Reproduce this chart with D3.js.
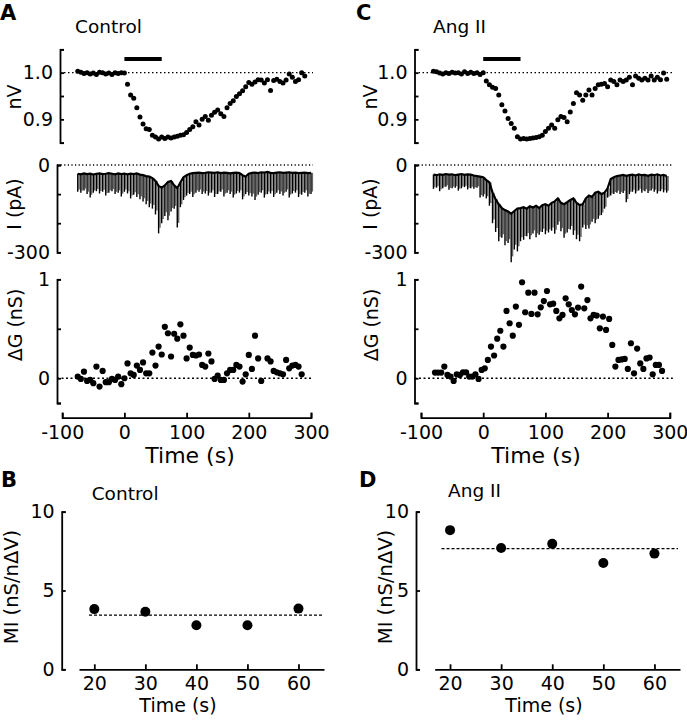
<!DOCTYPE html>
<html>
<head>
<meta charset="utf-8">
<script src="https://cdn.jsdelivr.net/npm/d3@7"></script>
<style>
  body { margin: 0; background: #fff; }
  svg text { font-family: "DejaVu Sans", sans-serif; fill: #000; }
  .axis path, .axis line { stroke: #000; stroke-width: 1.8; }
</style>
</head>
<body>
<script>
// ---- data ----
const stimWindow = [0, 60];

// normalised voltage (nV), sampled every 5 s
const nvTimeCtrl = d3.range(-75, 291, 5);
const nvCtrl = [1.003,1.001,0.998,1.000,0.997,0.999,0.996,1.001,1.000,0.997,0.999,0.996,1.000,0.998,1.000,0.999,
  0.975,0.952,0.945,0.925,0.905,0.890,0.880,0.878,0.866,0.862,
  0.858,0.862,0.859,0.862,0.860,0.862,0.864,0.866,0.867,0.872,
  0.878,0.884,0.895,0.888,0.900,0.906,0.898,0.909,0.915,0.920,
  0.912,0.906,0.925,0.934,0.940,0.949,0.955,0.961,0.970,0.979,
  0.975,0.980,0.985,0.984,0.978,0.985,0.962,0.983,0.986,0.981,
  0.978,0.984,0.997,0.990,0.981,0.985,1.000,0.993];
const nvTimeAng = d3.range(-80, 296, 5);
const nvAng = [1.003,1.002,0.999,0.997,1.000,0.998,1.001,0.999,1.000,0.997,1.002,0.998,1.001,0.998,1.000,0.996,1.000,
  0.982,0.974,0.969,0.966,0.952,0.931,0.918,0.902,0.891,0.881,
  0.863,0.858,0.859,0.858,0.859,0.860,0.861,0.863,0.866,0.874,
  0.881,0.888,0.881,0.899,0.906,0.904,0.895,0.916,0.934,0.957,
  0.952,0.941,0.952,0.963,0.952,0.966,0.974,0.975,0.977,0.970,
  0.984,0.981,0.974,0.984,0.981,0.984,0.990,0.974,0.993,0.988,
  0.984,0.988,0.984,0.993,0.984,0.990,0.985,0.999,0.986];

// holding current (pA): baseline and peak of each test pulse
const iTimeCtrl = d3.range(-75, 301, 5);
const iBaseCtrl = [-30,-32,-29,-31,-30,-33,-30,-29,-31,-30,-28,-30,-32,-29,-31,-30,
  -32,-30,-31,-29,-33,-35,-38,-40,-45,-55,
  -72,-78,-70,-58,-55,-70,-80,-60,-42,-35,
  -30,-28,-27,-26,-28,-27,-25,-26,-27,-25,
  -28,-26,-27,-29,-27,-26,-28,-35,-40,-30,
  -27,-26,-28,-25,-26,-24,-27,-28,-26,-25,
  -27,-26,-25,-27,-26,-28,-27,-26,-28,-27];
const iPeakCtrl = [-92,-95,-88,-100,-112,-95,-90,-98,-92,-105,-95,-90,-100,-95,-108,-92,
  -98,-115,-102,-110,-118,-125,-135,-145,-150,-170,
  -235,-200,-175,-190,-160,-150,-215,-145,-120,-105,
  -100,-110,-95,-92,-100,-98,-105,-95,-110,-100,
  -92,-108,-95,-100,-112,-98,-95,-118,-100,-105,
  -108,-120,-102,-95,-112,-100,-98,-110,-95,-100,
  -105,-92,-112,-98,-95,-110,-102,-95,-108,-100];
const iTimeAng = d3.range(-80, 296, 5);
const iBaseAng = [-33,-35,-32,-34,-31,-33,-32,-35,-33,-31,-34,-32,-33,-36,-38,-40,-42,
  -52,-60,-95,-118,-135,-148,-155,-160,-168,-158,
  -150,-148,-145,-150,-142,-146,-140,-148,-138,-135,
  -140,-130,-125,-115,-130,-135,-128,-120,-115,-130,
  -138,-135,-115,-105,-110,-95,-92,-100,-95,-80,
  -48,-42,-38,-36,-34,-37,-35,-33,-36,-32,
  -35,-34,-37,-33,-35,-32,-36,-34,-38];
const iPeakAng = [-82,-78,-90,-80,-75,-85,-80,-78,-88,-80,-76,-84,-80,-82,-78,-112,-108,
  -115,-140,-200,-230,-262,-250,-276,-268,-334,-290,
  -297,-262,-257,-245,-255,-235,-248,-240,-230,-238,
  -232,-226,-236,-205,-228,-250,-232,-222,-240,-255,
  -262,-215,-220,-218,-195,-200,-185,-172,-150,-112,
  -105,-100,-95,-100,-96,-128,-100,-92,-98,-88,
  -95,-90,-96,-88,-92,-98,-90,-94,-95];

// conductance change (nS)
const gTimeCtrl = d3.range(-75, 286, 5);
const gCtrl = [0.017,-0.007,0.067,-0.027,-0.017,-0.05,0.118,-0.084,0.074,-0.04,-0.04,-0.007,-0.017,0.017,-0.06,0.0,
  0.15,0.05,0.034,0.128,0.084,0.16,0.05,0.05,0.26,0.128,
  0.32,0.24,0.52,0.455,0.22,0.45,0.40,0.545,0.43,0.2,
  0.31,0.236,0.23,0.24,0.135,0.118,0.25,0.17,-0.007,0.027,
  -0.017,-0.017,0.05,0.084,0.084,0.135,0.118,-0.034,0.04,0.236,
  0.094,0.43,0.2,-0.027,null,0.2,0.17,0.074,0.06,0.05,
  0.04,0.185,0.1,0.128,0.135,0.118,0.04];
const gTimeAng = d3.range(-77.5, 290, 5);
const gAng = [0.057,0.057,0.057,0.118,0.034,0.017,-0.027,0.04,0.034,0.06,0.06,0.017,0.017,0.04,-0.007,0.084,
  0.1,0.185,0.32,0.23,0.4,0.48,0.32,0.68,0.556,0.43,
  0.724,0.54,0.97,0.667,0.865,0.65,0.865,0.646,0.717,0.78,
  0.882,0.747,0.754,0.68,0.606,0.64,0.808,0.747,0.69,0.646,
  0.714,0.926,0.707,0.79,0.606,0.64,0.633,0.505,0.623,0.488,
  0.6,0.337,0.118,0.185,0.19,0.195,0.094,0.354,0.05,0.3,
  0.15,0.094,0.2,0.21,0.04,0.135,0.135,0.074];

// membrane index (nS/nΔV) per analysis window
const miTimes = [20, 30, 40, 50, 60];
const miCtrl = [3.82, 3.65, 2.8, 2.8, 3.85];
const miAng = [8.83, 7.7, 7.96, 6.75, 7.34];
const miMeanCtrl = 3.44;
const miMeanAng = 7.66;

// ---- drawing ----
const svg = d3.select('body').append('svg').attr('width', 687).attr('height', 720);
const TICK_FS = 19;
const plain = d => String(d);   // hyphen-minus like the original, not U+2212

function txt(x, y, s, opts = {}) {
  const t = svg.append('text').attr('x', x).attr('y', y).text(s)
    .attr('font-size', (opts.size || 19) + 'px');
  if (opts.bold) t.attr('font-weight', 'bold');
  if (opts.anchor) t.attr('text-anchor', opts.anchor);
  return t;
}
function vLabel(x, cy, s, size) {
  svg.append('text').attr('transform', `translate(${x},${cy}) rotate(-90)`)
    .attr('text-anchor', 'middle').attr('font-size', (size || 19) + 'px').text(s);
}
function styleAxis(g) {
  g.attr('class', 'axis');
  g.selectAll('text').attr('font-size', TICK_FS + 'px').attr('fill', '#000');
}
function leftAxis(x, y, values, labels, fmt) {
  const f = fmt || plain;
  const ax = d3.axisLeft(y).tickValues(values).tickSize(-4).tickSizeOuter(-4).tickPadding(7)
    .tickFormat(d => labels.includes(d) ? f(d) : '');
  svg.append('g').attr('transform', `translate(${x},0)`).call(ax).call(styleAxis);
}
function hRef(x1, x2, y, dash) {
  svg.append('line').attr('x1', x1).attr('x2', x2).attr('y1', y).attr('y2', y)
    .attr('stroke', '#000').attr('stroke-width', 1.3).attr('stroke-dasharray', dash);
}

const columns = [
  { letter: 'A', letterX: 0, title: 'Control', titleX: 75, x0: 62.2, nvAx: 60, yAx: 57, labX: 21, timeCx: 190, refEnd: 2,
    nvT: nvTimeCtrl, nv: nvCtrl, iT: iTimeCtrl, iBase: iBaseCtrl, iPeak: iPeakCtrl, gT: gTimeCtrl, g: gCtrl },
  { letter: 'C', letterX: 356, title: 'Ang II', titleX: 433, x0: 421, nvAx: 414.5, yAx: 414.5, labX: 377, timeCx: 536, refEnd: 3,
    nvT: nvTimeAng, nv: nvAng, iT: iTimeAng, iBase: iBaseAng, iPeak: iPeakAng, gT: gTimeAng, g: gAng }
];

columns.forEach(c => {
  const x = d3.scaleLinear().domain([-100, 300]).range([c.x0, c.x0 + 248.8]);
  const yNv = d3.scaleLinear().domain([0.85, 1.05]).range([142.7, 49.3]);
  const yI = d3.scaleLinear().domain([-300, 0]).range([252.3, 165]);
  const yG = d3.scaleLinear().domain([-0.25, 1]).range([403, 279.3]);
  const xEnd = x(300) + c.refEnd;

  txt(c.letterX, 20, c.letter, { size: 21, bold: true });
  txt(c.titleX, 32.5, c.title, { size: 18.5 });

  // nV panel
  hRef(c.nvAx, xEnd, yNv(1), '1.5,2.5');
  leftAxis(c.nvAx, yNv, [0.85, 0.9, 0.95, 1.0, 1.05], [0.9, 1.0], d3.format('.1f'));
  svg.append('line').attr('x1', x(stimWindow[0])).attr('x2', x(stimWindow[1]))
    .attr('y1', 59).attr('y2', 59).attr('stroke', '#000').attr('stroke-width', 4);
  svg.append('g').selectAll('circle').data(c.nvT.map((t, i) => [t, c.nv[i]])).join('circle')
    .attr('cx', d => x(d[0])).attr('cy', d => yNv(d[1])).attr('r', 2.5).attr('fill', '#000');
  vLabel(c.labX, 97, 'nV');

  // current panel
  hRef(c.yAx, xEnd, yI(0), '1.2,2.4');
  leftAxis(c.yAx, yI, [-300, -200, -100, 0], [-300, 0]);
  const pulses = c.iT.map((t, i) => ({ t, b: c.iBase[i], p: c.iPeak[i] }));
  svg.append('g').selectAll('line').data(pulses).join('line')
    .attr('x1', d => x(d.t) + 1.4).attr('x2', d => x(d.t) + 1.4)
    .attr('y1', d => yI(d.b)).attr('y2', d => yI(d.b + 0.88 * (d.p - d.b)))
    .attr('stroke', '#666').attr('stroke-width', 1.4);
  svg.append('g').selectAll('line').data(pulses).join('line')
    .attr('x1', d => x(d.t)).attr('x2', d => x(d.t))
    .attr('y1', d => yI(d.b)).attr('y2', d => yI(d.p))
    .attr('stroke', '#000').attr('stroke-width', 1.4);
  svg.append('path').datum(pulses)
    .attr('d', d3.line().x(d => x(d.t)).y(d => yI(d.b)))
    .attr('fill', 'none').attr('stroke', '#000').attr('stroke-width', 2.2);
  vLabel(c.labX, 204, 'I (pA)');

  // conductance panel
  hRef(c.yAx, xEnd, yG(0), '2,2.5');
  leftAxis(c.yAx, yG, [-0.25, 0, 0.5, 1], [0, 1]);
  svg.append('g').selectAll('circle')
    .data(c.gT.map((t, i) => [t, c.g[i]]).filter(d => d[1] !== null)).join('circle')
    .attr('cx', d => x(d[0])).attr('cy', d => yG(d[1])).attr('r', 3.1).attr('fill', '#000');
  vLabel(c.labX + 1, 325, 'ΔG (nS)');

  const xa = d3.axisBottom(x).tickValues([-100, 0, 100, 200, 300]).tickFormat(plain)
    .tickSize(-5).tickSizeOuter(-5).tickPadding(8);
  svg.append('g').attr('transform', 'translate(0,417.7)').call(xa).call(styleAxis);
  txt(c.timeCx, 463, 'Time (s)', { size: 22, anchor: 'middle' });
});

const miPanels = [
  { letter: 'B', letterX: 1, title: 'Control', titleX: 91.7, titleY: 500, yAx: 61.7, xr: [79, 324], labX: 18, timeCx: 178,
    vals: miCtrl, mean: miMeanCtrl, meanX: [89, 324] },
  { letter: 'D', letterX: 359, title: 'Ang II', titleX: 448, titleY: 497, yAx: 416, xr: [434.7, 680], labX: 392, timeCx: 544,
    vals: miAng, mean: miMeanAng, meanX: [441.5, 678] }
];

miPanels.forEach(p => {
  const x = d3.scaleLinear().domain([17, 65]).range(p.xr);
  const y = d3.scaleLinear().domain([0, 10]).range([669.3, 511.7]);
  txt(p.letterX, 487, p.letter, { size: 21, bold: true });
  txt(p.titleX, p.titleY, p.title, { size: 18.5 });
  leftAxis(p.yAx, y, [0, 5, 10], [0, 5, 10]);
  const xa = d3.axisBottom(x).tickValues(miTimes).tickFormat(plain).tickSize(-5).tickSizeOuter(0).tickPadding(7);
  svg.append('g').attr('transform', 'translate(0,669.3)').call(xa).call(styleAxis);
  hRef(p.meanX[0], p.meanX[1], y(p.mean), '3,2');
  svg.append('g').selectAll('circle').data(miTimes.map((t, i) => [t, p.vals[i]])).join('circle')
    .attr('cx', d => x(d[0])).attr('cy', d => y(d[1])).attr('r', 5).attr('fill', '#000');
  vLabel(p.labX, 587, 'MI (nS/nΔV)', 19.5);
  txt(p.timeCx, 711.5, 'Time (s)', { size: 19, anchor: 'middle' });
});
</script>
</body>
</html>
